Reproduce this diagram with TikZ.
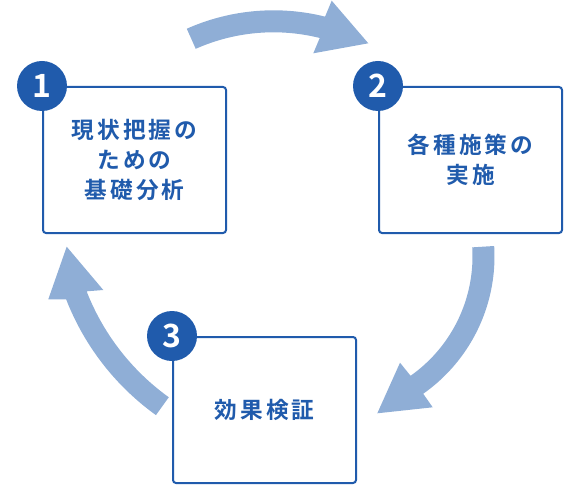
\documentclass[tikz,border=0pt]{standalone}
\usepackage{fontspec}
\newfontfamily\jp{Noto Sans CJK JP}[BoldFont={Noto Sans CJK JP Bold}]
\definecolor{main}{RGB}{32,91,172}
\definecolor{arrowc}{RGB}{143,174,214}
\begin{document}
\begin{tikzpicture}[x=0.75pt,y=-0.75pt,
  box/.style={draw=main, line width=1.5pt, rounded corners=2.25pt, fill=white,
    minimum width=137.25pt, minimum height=109.5pt, align=center, inner sep=0pt,
    text=main, font=\jp\bfseries\fontsize{17pt}{22.5pt}\selectfont\addfontfeature{LetterSpace=14}},
  badge/.style={circle, fill=main, minimum size=37.5pt, inner sep=0pt, text=white,
    font=\jp\bfseries\fontsize{24pt}{24pt}\selectfont},
  arr/.style={fill=arrowc}]
\useasboundingbox (0,0) rectangle (580,484);

% curved block arrows (arcs around their own centres)
\fill[arr] plot[domain=-114:-76, samples=40] ({273.5+213.2*cos(\x)},{223.5+213.2*sin(\x)})
  -- (331.7,0.7) -- (368.3,43.3) -- (313.3,53.3)
  -- plot[domain=-76:-114, samples=40] ({273.5+191.2*cos(\x)},{223.5+191.2*sin(\x)}) -- cycle;
\fill[arr] plot[domain=-3.55:54.85, samples=40] ({326.5+168*cos(\x)},{256.4+168*sin(\x)})
  -- (432.7,407.3) -- (377.3,413.3) -- (400,362.7)
  -- plot[domain=54.85:-3.55, samples=40] ({326.5+146*cos(\x)},{256.4+146*sin(\x)}) -- cycle;
\fill[arr] plot[domain=125.7:158.7, samples=40] ({306.5+258*cos(\x)},{205.6+258*sin(\x)})
  -- (48.3,299.3) -- (66.7,246.7) -- (103.3,290)
  -- plot[domain=158.7:125.7, samples=40] ({306.5+236*cos(\x)},{205.6+236*sin(\x)}) -- cycle;

% boxes
\node[box] (b1) at (134.5,160) {現状把握の\\ための\\基礎分析};
\node[box] (b2) at (470.5,160) {各種施策の\\実施};
\node[box] (b3) at (264.5,410) {効果検証};

% number badges
\node[badge] (n1) at (b1.north west) {1};
\node[badge] (n2) at (b2.north west) {2};
\node[badge] (n3) at (b3.north west) {3};
\end{tikzpicture}
\end{document}
